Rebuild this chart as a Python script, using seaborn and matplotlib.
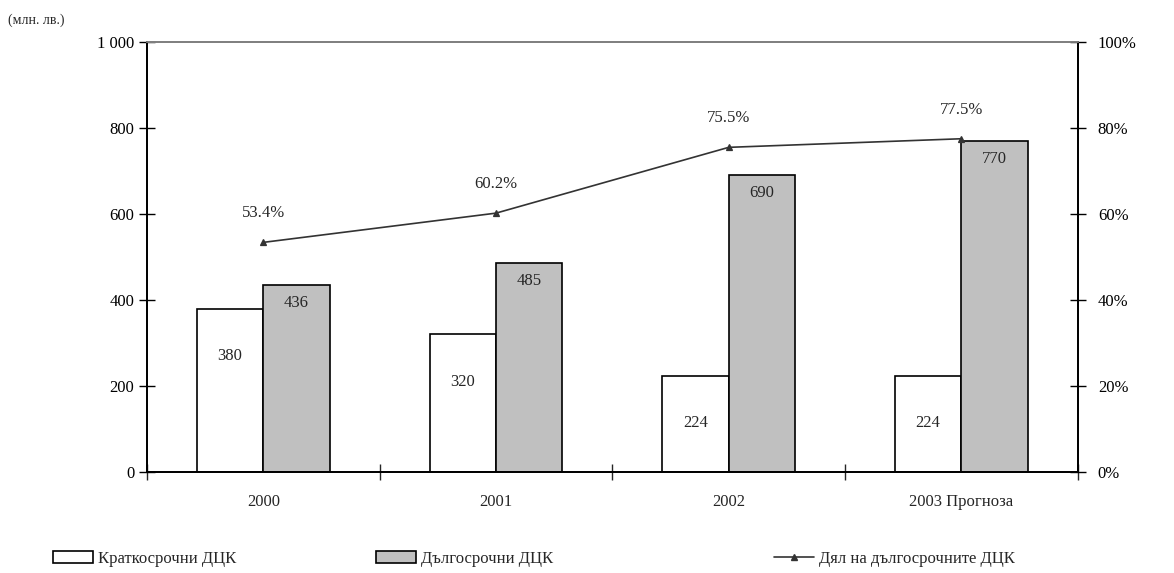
import matplotlib
matplotlib.use("Agg")
import matplotlib.pyplot as plt
from matplotlib.ticker import FuncFormatter, FixedLocator, NullFormatter
from matplotlib.patches import Patch
from matplotlib.lines import Line2D
import seaborn as sns
import pandas as pd

# Data
years = ["2000", "2001", "2002", "2003 Прогноза"]
short_term = [380, 320, 224, 224]
long_term = [436, 485, 690, 770]
long_share = [53.4, 60.2, 75.5, 77.5]

short_name = "Краткосрочни ДЦК"
long_name = "Дългосрочни ДЦК"
share_name = "Дял на дългосрочните ДЦК"

sns.set_theme(style="white")
plt.rcParams["font.family"] = ["Liberation Serif", "DejaVu Serif"]
plt.rcParams["font.size"] = 12

df = pd.DataFrame({
    "year": years * 2,
    "value": short_term + long_term,
    "kind": [short_name] * len(years) + [long_name] * len(years),
})

fig = plt.figure(figsize=(11.74, 5.73), dpi=100)
ax = fig.add_axes([0.1252, 0.1763, 0.7928, 0.7504])

sns.barplot(data=df, x="year", y="value", hue="kind", order=years,
            hue_order=[short_name, long_name],
            palette=["#ffffff", "#c0c0c0"], edgecolor="black", linewidth=1.2,
            width=0.57, ax=ax, legend=False, saturation=1)

ax.set_ylim(0, 1000)
ax.set_xlim(-0.5, len(years) - 0.5)
ax.set_yticks(range(0, 1001, 200))
ax.yaxis.set_major_formatter(FuncFormatter(lambda v, p: f"{int(v):,}".replace(",", " ")))
ax.set_xlabel("")
ax.set_ylabel("")
ax.tick_params(axis="y", direction="inout", length=12, width=1, labelsize=12,
               pad=3, colors="black")
# category labels at centres, tick marks between categories
ax.tick_params(axis="x", which="major", length=0, pad=16, labelsize=12)
ax.xaxis.set_minor_locator(FixedLocator([i + 0.5 for i in range(-1, len(years))]))
ax.xaxis.set_minor_formatter(NullFormatter())
ax.tick_params(axis="x", which="minor", direction="inout", length=12, width=1,
               bottom=True)

for side in ["left", "bottom", "right"]:
    ax.spines[side].set_color("black")
    ax.spines[side].set_linewidth(1.3)
ax.spines["top"].set_color("#808080")
ax.spines["top"].set_linewidth(1.3)

# value labels inside the bars
for i in range(len(years)):
    ax.annotate(f"{short_term[i]}", (i - 0.143, short_term[i]), xytext=(0, -34),
                textcoords="offset points", ha="center", va="center", fontsize=12)
    ax.annotate(f"{long_term[i]}", (i + 0.143, long_term[i]), xytext=(0, -13),
                textcoords="offset points", ha="center", va="center", fontsize=12)

# share of long-term securities on the secondary axis
ax2 = ax.twinx()
share_df = pd.DataFrame({"year": years, "share": long_share})
sns.pointplot(data=share_df, x="year", y="share", order=years, color="#333333",
              markers="^", markersize=5, linewidth=1.2, ax=ax2)
ax2.set_ylim(0, 100)
ax2.set_xlim(-0.5, len(years) - 0.5)
ax2.set_yticks(range(0, 101, 20))
ax2.yaxis.set_major_formatter(FuncFormatter(lambda v, p: f"{int(v)}%"))
ax2.set_ylabel("")
ax2.set_xlabel("")
ax2.tick_params(axis="y", direction="inout", length=12, width=1, labelsize=12,
                pad=8.5, right=True, colors="black")
for side in ["left", "bottom", "right"]:
    ax2.spines[side].set_color("black")
    ax2.spines[side].set_linewidth(1.3)
ax2.spines["top"].set_color("#808080")
ax2.spines["top"].set_linewidth(1.3)

for i, s in enumerate(long_share):
    ax2.annotate(f"{s:.1f}%", (i, s), xytext=(0, 21), textcoords="offset points",
                 ha="center", va="center", fontsize=12)

fig.text(0.007, 0.965, "(млн. лв.)", fontsize=10, ha="left", va="center")

# legend entries placed individually along the bottom
handles = [
    (Patch(facecolor="#ffffff", edgecolor="black", linewidth=1.2), short_name, 0.045),
    (Patch(facecolor="#c0c0c0", edgecolor="black", linewidth=1.2), long_name, 0.32),
    (Line2D([], [], color="#333333", marker="^", markersize=5, linewidth=1.2),
     share_name, 0.659),
]
for h, lab, x0 in handles:
    fig.legend([h], [lab], loc="center left", bbox_to_anchor=(x0, 0.025),
               frameon=False, fontsize=12, handlelength=2.4, handleheight=0.7,
               handletextpad=0.3, borderpad=0, borderaxespad=0)

fig.savefig("out.png", dpi=100)
